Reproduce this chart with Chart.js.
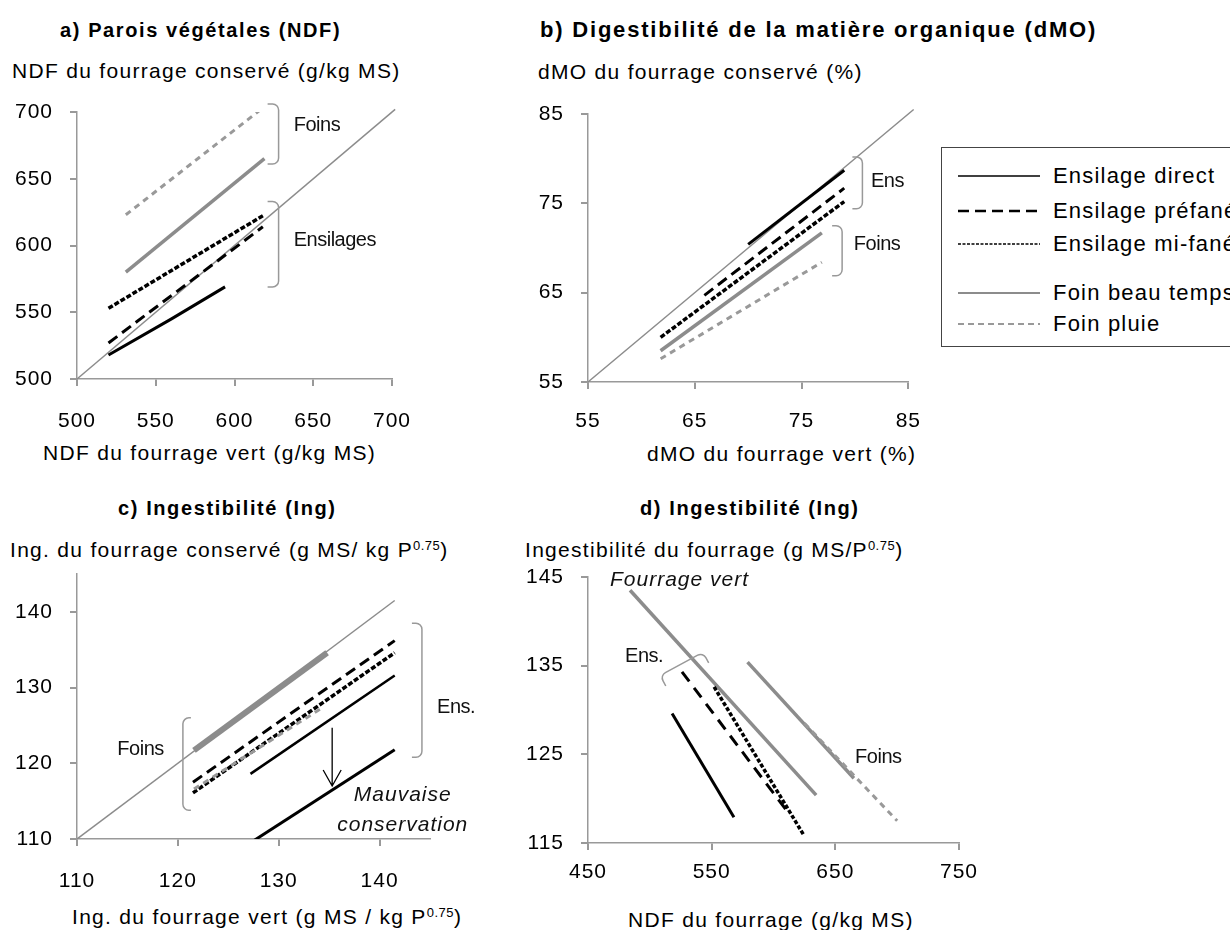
<!DOCTYPE html>
<html>
<head>
<meta charset="utf-8">
<script src="https://cdn.jsdelivr.net/npm/chart.js@4.4.1/dist/chart.umd.min.js"></script>
<style>
  body { margin: 0; background: #fff; }
  #page { position: relative; width: 1230px; height: 930px; overflow: hidden;
          font-family: "Liberation Sans", Arial, sans-serif; color: #000; }
  .txt { position: absolute; white-space: nowrap; transform: translateY(-50%);
         font-size: 21px; letter-spacing: 1.3px; line-height: 1.2; }
  .ttl { font-weight: bold; font-size: 20px; letter-spacing: 1.6px; }
  .txt sup { font-size: 13px; vertical-align: 7px; line-height: 0; letter-spacing: 0.5px; }
  canvas.panel, canvas.key { position: absolute; }
  #legend { position: absolute; left: 941px; top: 147px; width: 400px; height: 198px;
            border: 1px solid #444; }
</style>
</head>
<body>
<div id="page">
  <div class="txt ttl" style="left:60px;top:30px">a) Parois végétales (NDF)</div>
  <div class="txt" style="left:12px;top:71px">NDF du fourrage conservé (g/kg MS)</div>
  <div class="txt" style="left:43px;top:453px">NDF du fourrage vert (g/kg MS)</div>

  <div class="txt ttl" style="left:540px;top:30px;font-size:22px;letter-spacing:1.8px">b) Digestibilité de la matière organique (dMO)</div>
  <div class="txt" style="left:538px;top:72px">dMO du fourrage conservé (%)</div>
  <div class="txt" style="left:647px;top:454px">dMO du fourrage vert (%)</div>

  <div class="txt ttl" style="left:118px;top:508px">c) Ingestibilité (Ing)</div>
  <div class="txt" style="left:10px;top:550px">Ing. du fourrage conservé (g MS/ kg P<sup>0.75</sup>)</div>
  <div class="txt" style="left:72px;top:917px">Ing. du fourrage vert (g MS / kg P<sup>0.75</sup>)</div>

  <div class="txt ttl" style="left:640px;top:508px">d) Ingestibilité (Ing)</div>
  <div class="txt" style="left:525px;top:550px">Ingestibilité du fourrage (g MS/P<sup>0.75</sup>)</div>
  <div class="txt" style="left:628px;top:920px">NDF du fourrage (g/kg MS)</div>

  <div id="legend"></div>

  <canvas id="chartA" class="panel"></canvas>
  <canvas id="chartB" class="panel"></canvas>
  <canvas id="chartC" class="panel"></canvas>
  <canvas id="chartD" class="panel"></canvas>
</div>
<script>
// a) NDF : fourrage vert (x) -> fourrage conservé (y)
const aDirectX = [520, 560, 594];
const aDirectY = [518, 545, 569];
const aPrefaneX = [520, 618];
const aPrefaneY = [527, 614];
const aMifaneX = [520, 619];
const aMifaneY = [553, 623];
const aFoinBeauX = [531, 619];
const aFoinBeauY = [580, 665];
const aFoinPluieX = [531, 619];
const aFoinPluieY = [623, 704];
const aDiag = [500, 702];

// b) dMO
const bDirectX = [70, 79];
const bDirectY = [70.4, 78.7];
const bPrefaneX = [65.9, 79];
const bPrefaneY = [64.7, 76.7];
const bMifaneX = [61.8, 79];
const bMifaneY = [60.0, 75.2];
const bFoinBeauX = [61.8, 76.9];
const bFoinBeauY = [58.5, 71.7];
const bFoinPluieX = [61.8, 76.9];
const bFoinPluieY = [57.6, 68.4];
const bDiag = [55, 85.5];

// c) Ingestibilité vert -> conservé
const cFoinBeauX = [121.6, 134.8];
const cFoinBeauY = [121.7, 134.6];
const cFoinPluieX = [121.6, 134.4];
const cFoinPluieY = [116.6, 127.4];
const cPrefaneX = [121.5, 141.5];
const cPrefaneY = [117.5, 136.2];
const cMifaneX = [121.5, 141.5];
const cMifaneY = [116.1, 134.6];
const cDirectX = [127.2, 141.5];
const cDirectY = [118.6, 131.6];
const cMauvaiseX = [127.2, 141.5];
const cMauvaiseY = [109.5, 121.8];
const cDiag = [110, 141.5];

// d) Ingestibilité vs NDF
const dVertX = [484, 634.5];
const dVertY = [143.5, 120.4];
const dFoinBeauX = [579, 665];
const dFoinBeauY = [135.4, 122.3];
const dFoinPluieX = [625, 700];
const dFoinPluieY = [128.5, 117.5];
const dDirectX = [518, 568];
const dDirectY = [129.6, 117.9];
const dPrefaneX = [526, 612];
const dPrefaneY = [134.3, 118.4];
const dMifaneX = [552, 624];
const dMifaneY = [132.6, 116.0];

const legendLabels = ['Ensilage direct', 'Ensilage préfané', 'Ensilage mi-fané', 'Foin beau temps', 'Foin pluie'];

const BLACK = '#000';
const GREY = '#8c8c8c';
const AXIS = '#999';
const FONT = '"Liberation Sans", Arial, sans-serif';

const styles = {
    direct: { borderColor: BLACK, borderWidth: 3, borderDash: [] },
    prefane: { borderColor: BLACK, borderWidth: 3, borderDash: [11, 6] },
    mifane: { borderColor: BLACK, borderWidth: 3.5, borderDash: [5, 2] },
    foinBeau: { borderColor: GREY, borderWidth: 3.5, borderDash: [] },
    foinPluie: { borderColor: '#999', borderWidth: 3, borderDash: [6, 5] },
    diag: { borderColor: GREY, borderWidth: 1.5, borderDash: [] }
};

function pts(xs, ys) {
    return xs.map((x, i) => ({ x: x, y: ys[i] }));
}

function line(xs, ys, style, extra) {
    return Object.assign({
        data: pts(xs, ys),
        showLine: true,
        pointRadius: 0,
        borderCapStyle: 'butt',
        fill: false
    }, styles[style], extra || {});
}

// brackets, labels, arrows drawn in data units
function notesPlugin(notes) {
    return {
        id: 'notes',
        beforeDraw(chart) {
            chart.ctx.letterSpacing = '1px';
        },
        afterDatasetsDraw(chart) {
            const ctx = chart.ctx;
            const sx = chart.scales.x, sy = chart.scales.y;
            const px = (p) => [sx.getPixelForValue(p[0]), sy.getPixelForValue(p[1])];
            ctx.save();
            (notes.brackets || []).forEach(b => {
                const [ax, ay] = px(b.from);
                const [bx, by] = px(b.to);
                const len = Math.hypot(bx - ax, by - ay);
                const ux = (bx - ax) / len, uy = (by - ay) / len;
                let nx = -uy, ny = ux;
                if (b.side < 0) { nx = -nx; ny = -ny; }
                const L = b.arm;
                ctx.beginPath();
                ctx.moveTo(ax + nx * L, ay + ny * L);
                ctx.arcTo(ax, ay, bx, by, 6);
                ctx.arcTo(bx, by, bx + nx * L, by + ny * L, 6);
                ctx.lineTo(bx + nx * L, by + ny * L);
                ctx.strokeStyle = AXIS;
                ctx.lineWidth = 1.5;
                ctx.setLineDash([]);
                ctx.stroke();
            });
            (notes.arrows || []).forEach(a => {
                const [ax, ay] = px(a.from);
                const [bx, by] = px(a.to);
                ctx.beginPath();
                ctx.moveTo(ax, ay);
                ctx.lineTo(bx, by);
                ctx.moveTo(bx - 9, by - 16);
                ctx.lineTo(bx, by);
                ctx.lineTo(bx + 9, by - 16);
                ctx.strokeStyle = BLACK;
                ctx.lineWidth = 1.3;
                ctx.setLineDash([]);
                ctx.stroke();
            });
            (notes.labels || []).forEach(l => {
                const [x, y] = px(l.at);
                ctx.font = (l.italic ? 'italic 21px ' : '20px ') + FONT;
                ctx.letterSpacing = l.italic ? '1px' : '-0.5px';
                ctx.fillStyle = '#111';
                ctx.textAlign = l.align || 'left';
                ctx.textBaseline = 'middle';
                ctx.fillText(l.text, x, y);
            });
            ctx.restore();
        }
    };
}

function axis(min, max, step, pad, fixed) {
    return {
        type: 'linear',
        min: min,
        max: max,
        border: { color: AXIS, width: 1.5 },
        grid: { drawOnChartArea: false, drawTicks: true, tickLength: 7, color: AXIS, lineWidth: 2 },
        ticks: {
            stepSize: step,
            includeBounds: false,
            padding: pad,
            color: '#000',
            font: { family: FONT, size: 21 }
        },
        afterFit: s => {
            if (s.isHorizontal()) s.height = fixed; else s.width = fixed;
        }
    };
}

function makePanel(id, area, cfg) {
    const yW = cfg.yW, xH = cfg.xH, padTop = 30, padRight = cfg.padRight;
    const canvas = document.getElementById(id);
    const w = yW + (area.right - area.left) + padRight;
    const h = padTop + (area.bottom - area.top) + xH;
    canvas.width = w;
    canvas.height = h;
    canvas.style.left = (area.left - yW) + 'px';
    canvas.style.top = (area.top - padTop) + 'px';
    canvas.style.width = w + 'px';
    canvas.style.height = h + 'px';

    return new Chart(canvas.getContext('2d'), {
        type: 'scatter',
        data: { datasets: cfg.datasets },
        options: {
            responsive: false,
            animation: false,
            layout: { padding: { top: padTop, right: padRight, left: 0, bottom: 0 } },
            plugins: { legend: { display: false }, tooltip: { enabled: false } },
            scales: {
                x: axis(cfg.x[0], cfg.x[1], cfg.x[2], cfg.xPad, xH),
                y: axis(cfg.y[0], cfg.y[1], cfg.y[2], 17, yW)
            }
        },
        plugins: [notesPlugin(cfg.notes)]
    });
}

makePanel('chartA', { left: 77, top: 112, right: 392, bottom: 379 }, {
    yW: 77, xH: 60, padRight: 60, xPad: 23,
    x: [500, 700, 50], y: [500, 700, 50],
    datasets: [
        line(aDirectX, aDirectY, 'direct'),
        line(aPrefaneX, aPrefaneY, 'prefane'),
        line(aMifaneX, aMifaneY, 'mifane'),
        line(aFoinBeauX, aFoinBeauY, 'foinBeau'),
        line(aFoinPluieX, aFoinPluieY, 'foinPluie'),
        line(aDiag, aDiag, 'diag', { clip: false })
    ],
    notes: {
        brackets: [
            { from: [628, 706], to: [628, 661], arm: 11 },
            { from: [628, 633], to: [628, 569], arm: 11 }
        ],
        labels: [
            { at: [637.6, 690], text: 'Foins' },
            { at: [637.6, 604], text: 'Ensilages' }
        ]
    }
});

makePanel('chartB', { left: 588, top: 114, right: 922, bottom: 382 }, {
    yW: 80, xH: 60, padRight: 18, xPad: 20,
    x: [55, 85, 10], y: [55, 85, 10],
    datasets: [
        line(bDirectX, bDirectY, 'direct'),
        line(bPrefaneX, bPrefaneY, 'prefane'),
        line(bMifaneX, bMifaneY, 'mifane'),
        line(bFoinBeauX, bFoinBeauY, 'foinBeau'),
        line(bFoinPluieX, bFoinPluieY, 'foinPluie'),
        line(bDiag, bDiag, 'diag', { clip: false })
    ],
    notes: {
        brackets: [
            { from: [80.7, 80.2], to: [80.7, 74.4], arm: 10 },
            { from: [78.8, 72.5], to: [78.8, 66.9], arm: 10 }
        ],
        labels: [
            { at: [81.5, 77.4], text: 'Ens' },
            { at: [79.9, 70.4], text: 'Foins' }
        ]
    }
});

makePanel('chartC', { left: 77, top: 574, right: 430, bottom: 839 }, {
    yW: 77, xH: 60, padRight: 60, xPad: 23,
    x: [110, 145, 10], y: [110, 145, 10],
    datasets: [
        line(cFoinPluieX, cFoinPluieY, 'foinPluie'),
        line(cPrefaneX, cPrefaneY, 'prefane'),
        line(cMifaneX, cMifaneY, 'mifane'),
        line(cDirectX, cDirectY, 'direct', { borderWidth: 2.5 }),
        line(cMauvaiseX, cMauvaiseY, 'direct'),
        line(cFoinBeauX, cFoinBeauY, 'foinBeau', { borderWidth: 6 }),
        line(cDiag, cDiag, 'diag')
    ],
    notes: {
        brackets: [
            { from: [120.5, 126.0], to: [120.5, 113.8], arm: 8, side: -1 },
            { from: [144.2, 138.5], to: [144.2, 120.8], arm: 10 }
        ],
        arrows: [
            { from: [135.3, 124.7], to: [135.3, 117.0] }
        ],
        labels: [
            { at: [114.0, 121.8], text: 'Foins' },
            { at: [145.7, 127.4], text: 'Ens.' },
            { at: [142.3, 115.8], text: 'Mauvaise', italic: true, align: 'center' },
            { at: [142.3, 111.8], text: 'conservation', italic: true, align: 'center' }
        ]
    }
});

makePanel('chartD', { left: 588, top: 577, right: 959, bottom: 843 }, {
    yW: 80, xH: 50, padRight: 30, xPad: 10,
    x: [450, 750, 100], y: [115, 145, 10],
    datasets: [
        line(dDirectX, dDirectY, 'direct'),
        line(dPrefaneX, dPrefaneY, 'prefane', { borderDash: [12, 8] }),
        line(dMifaneX, dMifaneY, 'mifane', { borderDash: [4, 2] }),
        line(dFoinPluieX, dFoinPluieY, 'foinPluie'),
        line(dFoinBeauX, dFoinBeauY, 'foinBeau'),
        line(dVertX, dVertY, 'foinBeau')
    ],
    notes: {
        brackets: [
            { from: [508.3, 133.9], to: [543, 136.5], arm: 12 }
        ],
        labels: [
            { at: [467.8, 144.65], text: 'Fourrage vert', italic: true },
            { at: [480, 136.0], text: 'Ens.' },
            { at: [666, 124.6], text: 'Foins' }
        ]
    }
});

// legend (outside the charts, as in the figure)
function buildLegend() {
    const box = document.getElementById('legend');
    const keys = ['direct', 'prefane', 'mifane', 'foinBeau', 'foinPluie'];
    const keyLook = {
        direct: { w: 1.5, dash: [] },
        prefane: { w: 2.5, dash: [11, 6] },
        mifane: { w: 1.3, dash: [3, 1.5] },
        foinBeau: { w: 2, dash: [] },
        foinPluie: { w: 2, dash: [6, 4] }
    };
    const rowY = [28, 63, 96, 145, 176];
    legendLabels.forEach((label, i) => {
        const c = document.createElement('canvas');
        c.className = 'key';
        c.width = 84; c.height = 10;
        c.style.left = '16px';
        c.style.top = (rowY[i] - 5) + 'px';
        const ctx = c.getContext('2d');
        ctx.strokeStyle = styles[keys[i]].borderColor;
        ctx.lineWidth = keyLook[keys[i]].w;
        ctx.setLineDash(keyLook[keys[i]].dash);
        ctx.beginPath();
        ctx.moveTo(0, 5);
        ctx.lineTo(82, 5);
        ctx.stroke();
        box.appendChild(c);

        const t = document.createElement('div');
        t.className = 'txt';
        t.textContent = label;
        t.style.left = '111px';
        t.style.top = rowY[i] + 'px';
        t.style.fontSize = '22px';
        t.style.letterSpacing = '1.2px';
        box.appendChild(t);
    });
}
buildLegend();
</script>
</body>
</html>
